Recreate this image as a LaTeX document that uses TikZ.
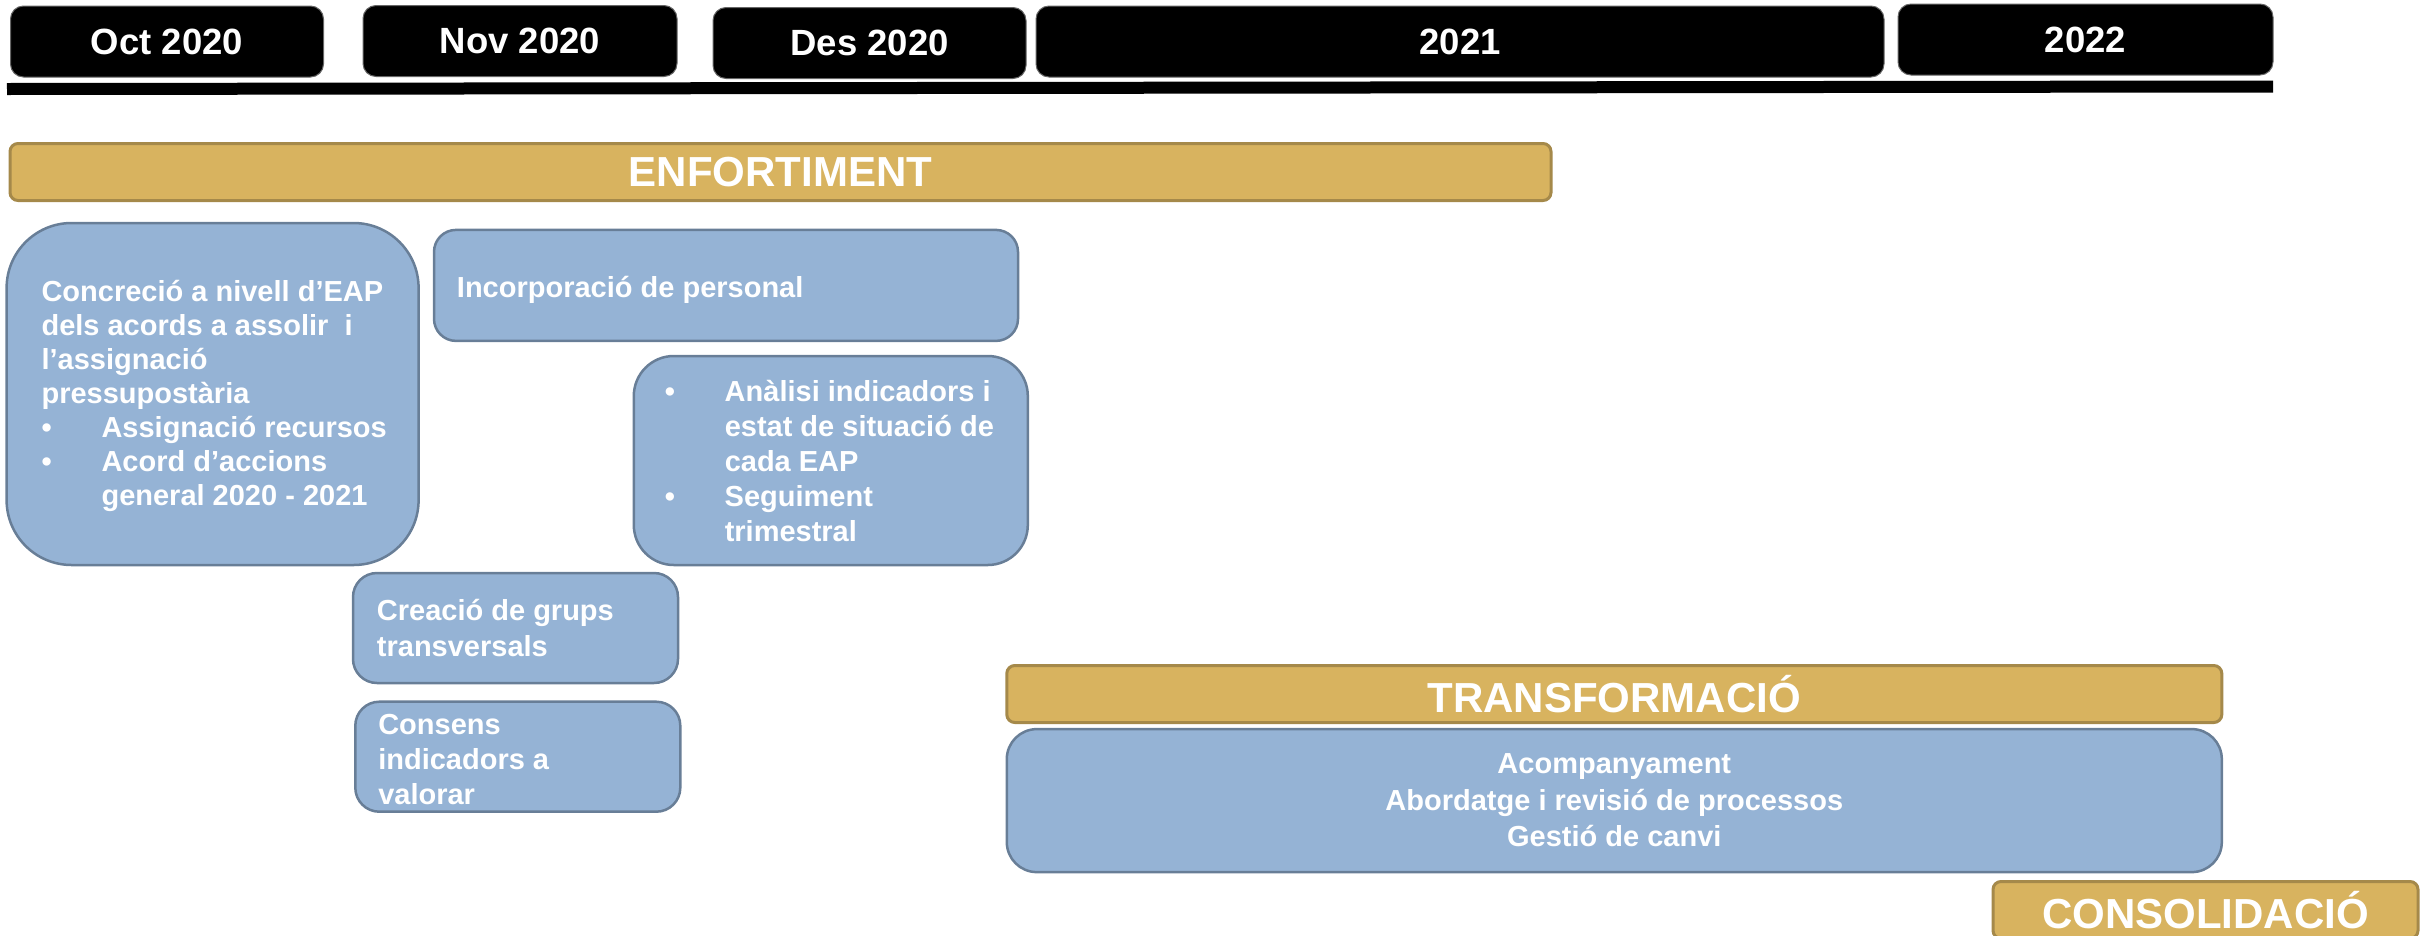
\documentclass[tikz,border=0pt]{standalone}
\usepackage{fontspec}
\setmainfont{Liberation Sans}
\usepackage{xcolor}
\usepackage{tikz}
\usetikzlibrary{shapes}
\usetikzlibrary{calc}
\definecolor{goldfill}{HTML}{D8B35F}
\definecolor{goldline}{HTML}{A5894A}
\definecolor{bluefill}{HTML}{95B3D5}
\definecolor{blueline}{HTML}{687E97}
\tikzset{ title_box/.style = {rectangle, rounded corners=13pt, fill=black, draw=black!60, line width=1pt, minimum height=71pt, text=white, font=\bfseries\fontsize{36.5}{43}\selectfont} }
\tikzset{ phase_bar/.style = {rectangle, rounded corners=8pt, fill=goldfill, draw=goldline, line width=3pt, minimum height=57pt, text=white, font=\bfseries\fontsize{42}{49}\selectfont} }
\tikzset{ task_box/.style = {rectangle, fill=bluefill, draw=blueline, line width=2.5pt, text=white, align=center, font=\bfseries\fontsize{29}{36.5}\selectfont} }
\tikzset{ task_text/.style = {inner sep=0pt, anchor=west, text=white, align=left, font=\bfseries\fontsize{29}{34}\selectfont} }
\newcommand{\bul}{\makebox[60pt][l]{\textbullet}}
\newcommand{\indnt}{\hspace*{60pt}}

\begin{document}
\begin{tikzpicture}[x=1pt,y=-1pt]
        \useasboundingbox (0,0) rectangle (2425,935);
        % time line
        \node[title_box, minimum width=313pt] (oct) at (167,41.5) {Oct 2020};
        \node[title_box, minimum width=314pt] (nov) at (520,41) {Nov 2020};
        \node[title_box, minimum width=313pt] (des) at (869.5,43) {Des 2020};
        \node[title_box, minimum width=848pt] (y2021) at (1460,41.5) {2021};
        \node[title_box, minimum width=375pt] (y2022) at (2085.5,39.5) {2022};
        \coordinate (lineL) at (7,89);
        \coordinate (lineR) at (2273,86.5);
        \draw[line width=12pt] (lineL) -- (lineR);
        % phases
        \node[phase_bar, minimum width=1541pt] (enfortiment) at (780.5,172) {ENFORTIMENT};
        \node[phase_bar, minimum width=1215pt] (transformacio) at (1614.3,694) {TRANSFORMACIÓ};
        \node[phase_bar, minimum width=425pt] (consolidacio) at (2205.5,910) {CONSOLIDACIÓ};
        % tasks
        \node[task_box, rounded corners=65pt, minimum width=412pt, minimum height=342pt] (concrecio) at (212.6,394) {};
        \node[task_text] (concrecio_txt) at ([xshift=36pt,yshift=-2pt]concrecio.west)
            {Concreció a nivell d’EAP\\ dels acords a assolir\ \ i\\ l’assignació\\ pressupostària\\
             \bul Assignació recursos\\ \bul Acord d’accions\\ \indnt general 2020 - 2021};
        \node[task_box, rounded corners=22pt, minimum width=584pt, minimum height=111pt] (incorporacio) at (726,285.4) {};
        \node[task_text] (incorporacio_txt) at ([xshift=24pt,yshift=-4pt]incorporacio.west) {Incorporació de personal};
        \node[task_box, rounded corners=40pt, minimum width=394pt, minimum height=209pt] (analisi) at (830.8,460.5) {};
        \node[task_text, font=\bfseries\fontsize{29}{35}\selectfont] (analisi_txt) at ([xshift=32pt]analisi.west)
            {\bul Anàlisi indicadors i\\ \indnt estat de situació de\\ \indnt cada EAP\\ \bul Seguiment\\ \indnt trimestral};
        \node[task_box, rounded corners=24pt, minimum width=325pt, minimum height=110pt] (grups) at (515.5,628) {};
        \node[task_text, font=\bfseries\fontsize{29}{35.5}\selectfont] (grups_txt) at ([xshift=25pt]grups.west) {Creació de grups\\ transversals};
        \node[task_box, rounded corners=24pt, minimum width=325pt, minimum height=110pt] (consens) at (517.8,756.7) {};
        \node[task_text, font=\bfseries\fontsize{29}{35}\selectfont] (consens_txt) at ([xshift=24pt,yshift=-3pt]consens.west) {Consens\\ indicadors a\\ valorar};
        \node[task_box, rounded corners=30pt, minimum width=1215pt, minimum height=143pt] (acompanyament) at (1614.3,800.6)
            {Acompanyament\\ Abordatge i revisió de processos\\ Gestió de canvi};
    \end{tikzpicture}
\end{document}
